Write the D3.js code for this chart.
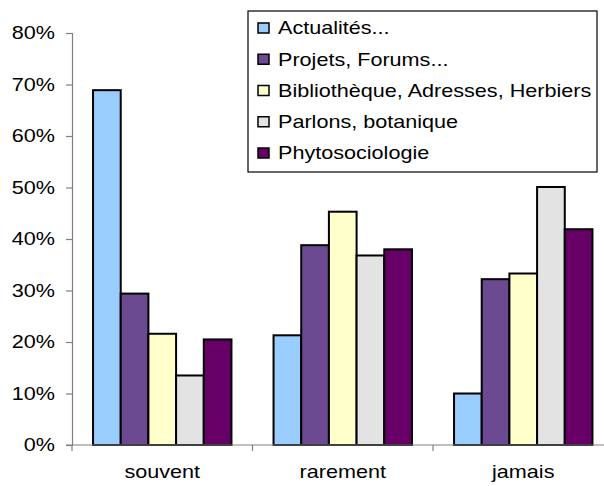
<!DOCTYPE html>
<html><head><meta charset="utf-8">
<script src="https://cdn.jsdelivr.net/npm/d3@7"></script>
<style>body{margin:0;background:#fff}svg{display:block}</style>
</head><body>
<script>
const categories = ["souvent", "rarement", "jamais"];
const series = ["Actualités...", "Projets, Forums...", "Bibliothèque, Adresses, Herbiers", "Parlons, botanique", "Phytosociologie"];
const actualites = [0.689, 0.213, 0.100];
const projets = [0.294, 0.388, 0.322];
const bibliotheque = [0.216, 0.453, 0.333];
const parlons = [0.135, 0.368, 0.501];
const phyto = [0.205, 0.380, 0.419];
const yTicks = [0, 0.1, 0.2, 0.3, 0.4, 0.5, 0.6, 0.7, 0.8];
const colors = ["#99CCFF", "#6B4A91", "#FFFFCC", "#E3E3E3", "#660066"];
const values = [actualites, projets, bibliotheque, parlons, phyto];

const W = 604, H = 486;
const FS = 18, SX = 1.2;
const FONT = "'Liberation Sans', Arial, sans-serif";
const svg = d3.select("body").append("svg").attr("width", W).attr("height", H)
  .style("font-family", FONT);

function label(parent, x, y, txt, anchor, dy) {
  parent.append("text")
    .attr("transform", `translate(${x},${y}) scale(${SX},1)`)
    .attr("text-anchor", anchor).attr("dy", dy)
    .attr("font-size", FS).attr("fill", "#000").text(txt);
}

const y = d3.scaleLinear().domain([0, 0.8]).range([445, 33]);
const x0 = d3.scaleBand().domain(categories).range([72, 613.5]).padding(0);
const x1 = d3.scaleBand().domain(series).range([0, x0.bandwidth()]).paddingInner(0).paddingOuter(0.76);

// bars
const g = svg.append("g");
categories.forEach((c, ci) => {
  const cg = g.append("g").attr("transform", `translate(${x0(c)},0)`);
  cg.selectAll("rect").data(series.map((s, si) => ({s, si, v: values[si][ci]})))
    .join("rect")
    .attr("x", d => x1(d.s))
    .attr("y", d => y(d.v))
    .attr("width", x1.bandwidth())
    .attr("height", d => y(0) - y(d.v))
    .attr("fill", d => colors[d.si])
    .attr("stroke", "#000")
    .attr("stroke-width", 2);
});

// y axis
const yAxis = d3.axisLeft(y).tickValues(yTicks).tickFormat("").tickSize(6);
const ya = svg.append("g").attr("transform", "translate(72,0)").call(yAxis);
ya.select(".domain").attr("stroke", "#808080").attr("stroke-width", 1.2);
ya.selectAll(".tick line").attr("stroke", "#808080").attr("stroke-width", 1.2);
const fmt = d3.format(".0%");
const yl = svg.append("g");
yTicks.forEach(t => label(yl, 55, y(t), fmt(t), "end", "0.35em"));

// x axis
const xa = svg.append("g").attr("transform", "translate(0,445)");
xa.append("line").attr("x1", 66).attr("x2", 604).attr("y1", 0).attr("y2", 0).attr("stroke", "#808080").attr("stroke-width", 1.2);
xa.selectAll("line.t").data(categories).join("line").attr("class", "t")
  .attr("x1", d => x0(d)).attr("x2", d => x0(d)).attr("y1", 0).attr("y2", 6)
  .attr("stroke", "#808080").attr("stroke-width", 1.2);
categories.forEach(c => label(xa, x0(c) + x0.bandwidth() / 2, 33, c, "middle", 0));

// legend
const lg = svg.append("g");
lg.append("rect").attr("x", 248).attr("y", 11).attr("width", 349).attr("height", 161)
  .attr("fill", "#fff").attr("stroke", "#000").attr("stroke-width", 1.2);
const ly = d3.scalePoint().domain(series).range([28, 153]);
series.forEach((s, i) => {
  lg.append("rect").attr("x", 258).attr("y", ly(s) - 5).attr("width", 11).attr("height", 10)
    .attr("fill", colors[i]).attr("stroke", "#000").attr("stroke-width", 1.5);
  label(lg, 278, ly(s), s, "start", "0.35em");
});
</script>
</body></html>
